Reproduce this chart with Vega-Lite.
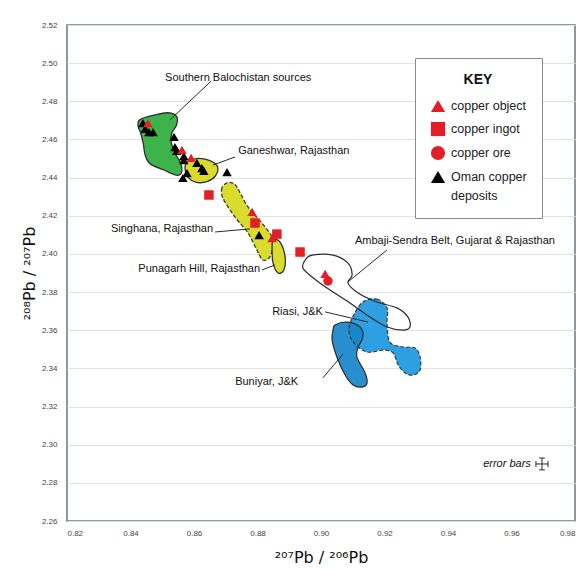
{
  "$schema": "https://vega.github.io/schema/vega-lite/v6.json",
  "width": 508,
  "height": 496,
  "autosize": {"type": "none"},
  "padding": {"left": 67, "top": 25, "right": 8, "bottom": 49},
  "background": "white",
  "config": {
    "view": {"stroke": "#8d9a9e", "strokeWidth": 2},
    "font": "Liberation Sans",
    "style": {"guide-label": {"lineHeight": 19}},
    "axis": {"labelFont": "Liberation Sans", "labelFontSize": 8, "labelColor": "#444", "ticks": false, "domain": false, "titleFont": "DejaVu Sans", "titleFontSize": 16, "titleFontWeight": "normal", "titleColor": "#111"}
  },
  "datasets": {
    "shapes": [
      {"region": "green", "i": 1, "x": 0.8430, "y": 2.4705},
      {"region": "green", "i": 2, "x": 0.8480, "y": 2.4730},
      {"region": "green", "i": 3, "x": 0.8518, "y": 2.4740},
      {"region": "green", "i": 4, "x": 0.8545, "y": 2.4722},
      {"region": "green", "i": 5, "x": 0.8545, "y": 2.4676},
      {"region": "green", "i": 6, "x": 0.8530, "y": 2.4634},
      {"region": "green", "i": 7, "x": 0.8528, "y": 2.4587},
      {"region": "green", "i": 8, "x": 0.8540, "y": 2.4529},
      {"region": "green", "i": 9, "x": 0.8556, "y": 2.4482},
      {"region": "green", "i": 10, "x": 0.8562, "y": 2.4435},
      {"region": "green", "i": 11, "x": 0.8548, "y": 2.4412},
      {"region": "green", "i": 12, "x": 0.8505, "y": 2.4440},
      {"region": "green", "i": 13, "x": 0.8462, "y": 2.4472},
      {"region": "green", "i": 14, "x": 0.8446, "y": 2.4519},
      {"region": "green", "i": 15, "x": 0.8440, "y": 2.4581},
      {"region": "green", "i": 16, "x": 0.8432, "y": 2.4634},
      {"region": "green", "i": 17, "x": 0.8424, "y": 2.4670},
      {"region": "ganeshwar", "i": 1, "x": 0.8578, "y": 2.4482},
      {"region": "ganeshwar", "i": 2, "x": 0.8609, "y": 2.4500},
      {"region": "ganeshwar", "i": 3, "x": 0.8648, "y": 2.4490},
      {"region": "ganeshwar", "i": 4, "x": 0.8674, "y": 2.4458},
      {"region": "ganeshwar", "i": 5, "x": 0.8668, "y": 2.4410},
      {"region": "ganeshwar", "i": 6, "x": 0.8643, "y": 2.4380},
      {"region": "ganeshwar", "i": 7, "x": 0.8607, "y": 2.4375},
      {"region": "ganeshwar", "i": 8, "x": 0.8582, "y": 2.4400},
      {"region": "ganeshwar", "i": 9, "x": 0.8572, "y": 2.4442},
      {"region": "singhana", "i": 1, "x": 0.8704, "y": 2.4372},
      {"region": "singhana", "i": 2, "x": 0.8688, "y": 2.4346},
      {"region": "singhana", "i": 3, "x": 0.8691, "y": 2.4293},
      {"region": "singhana", "i": 4, "x": 0.8729, "y": 2.4194},
      {"region": "singhana", "i": 5, "x": 0.8770, "y": 2.4110},
      {"region": "singhana", "i": 6, "x": 0.8798, "y": 2.4021},
      {"region": "singhana", "i": 7, "x": 0.8817, "y": 2.3968},
      {"region": "singhana", "i": 8, "x": 0.8839, "y": 2.3984},
      {"region": "singhana", "i": 9, "x": 0.8849, "y": 2.4047},
      {"region": "singhana", "i": 10, "x": 0.8846, "y": 2.4089},
      {"region": "singhana", "i": 11, "x": 0.8814, "y": 2.4162},
      {"region": "singhana", "i": 12, "x": 0.8770, "y": 2.4246},
      {"region": "singhana", "i": 13, "x": 0.8735, "y": 2.4351},
      {"region": "singhana", "i": 14, "x": 0.8720, "y": 2.4372},
      {"region": "punagarh", "i": 1, "x": 0.8849, "y": 2.4073},
      {"region": "punagarh", "i": 2, "x": 0.8871, "y": 2.4062},
      {"region": "punagarh", "i": 3, "x": 0.8887, "y": 2.3984},
      {"region": "punagarh", "i": 4, "x": 0.8883, "y": 2.3916},
      {"region": "punagarh", "i": 5, "x": 0.8865, "y": 2.3900},
      {"region": "punagarh", "i": 6, "x": 0.8849, "y": 2.3952},
      {"region": "punagarh", "i": 7, "x": 0.8846, "y": 2.4021},
      {"region": "ambaji", "i": 1, "x": 0.8950, "y": 2.3968},
      {"region": "ambaji", "i": 2, "x": 0.8972, "y": 2.3994},
      {"region": "ambaji", "i": 3, "x": 0.9038, "y": 2.3994},
      {"region": "ambaji", "i": 4, "x": 0.9085, "y": 2.3952},
      {"region": "ambaji", "i": 5, "x": 0.9098, "y": 2.3890},
      {"region": "ambaji", "i": 6, "x": 0.9085, "y": 2.3848},
      {"region": "ambaji", "i": 7, "x": 0.9117, "y": 2.3795},
      {"region": "ambaji", "i": 8, "x": 0.9176, "y": 2.3748},
      {"region": "ambaji", "i": 9, "x": 0.9239, "y": 2.3717},
      {"region": "ambaji", "i": 10, "x": 0.9274, "y": 2.3669},
      {"region": "ambaji", "i": 11, "x": 0.9280, "y": 2.3617},
      {"region": "ambaji", "i": 12, "x": 0.9258, "y": 2.3601},
      {"region": "ambaji", "i": 13, "x": 0.9208, "y": 2.3617},
      {"region": "ambaji", "i": 14, "x": 0.9154, "y": 2.3669},
      {"region": "ambaji", "i": 15, "x": 0.9091, "y": 2.3743},
      {"region": "ambaji", "i": 16, "x": 0.9019, "y": 2.3821},
      {"region": "ambaji", "i": 17, "x": 0.8972, "y": 2.3879},
      {"region": "ambaji", "i": 18, "x": 0.8943, "y": 2.3926},
      {"region": "riasi", "i": 1, "x": 0.9132, "y": 2.3748},
      {"region": "riasi", "i": 2, "x": 0.9176, "y": 2.3763},
      {"region": "riasi", "i": 3, "x": 0.9208, "y": 2.3717},
      {"region": "riasi", "i": 4, "x": 0.9208, "y": 2.3638},
      {"region": "riasi", "i": 5, "x": 0.9217, "y": 2.3538},
      {"region": "riasi", "i": 6, "x": 0.9258, "y": 2.3512},
      {"region": "riasi", "i": 7, "x": 0.9296, "y": 2.3507},
      {"region": "riasi", "i": 8, "x": 0.9312, "y": 2.3460},
      {"region": "riasi", "i": 9, "x": 0.9312, "y": 2.3392},
      {"region": "riasi", "i": 10, "x": 0.9290, "y": 2.3365},
      {"region": "riasi", "i": 11, "x": 0.9265, "y": 2.3376},
      {"region": "riasi", "i": 12, "x": 0.9243, "y": 2.3418},
      {"region": "riasi", "i": 13, "x": 0.9227, "y": 2.3481},
      {"region": "riasi", "i": 14, "x": 0.9195, "y": 2.3496},
      {"region": "riasi", "i": 15, "x": 0.9145, "y": 2.3486},
      {"region": "riasi", "i": 16, "x": 0.9104, "y": 2.3533},
      {"region": "riasi", "i": 17, "x": 0.9088, "y": 2.3601},
      {"region": "riasi", "i": 18, "x": 0.9101, "y": 2.3674},
      {"region": "buniyar", "i": 1, "x": 0.9044, "y": 2.3627},
      {"region": "buniyar", "i": 2, "x": 0.9082, "y": 2.3643},
      {"region": "buniyar", "i": 3, "x": 0.9123, "y": 2.3617},
      {"region": "buniyar", "i": 4, "x": 0.9132, "y": 2.3565},
      {"region": "buniyar", "i": 5, "x": 0.9117, "y": 2.3512},
      {"region": "buniyar", "i": 6, "x": 0.9113, "y": 2.3460},
      {"region": "buniyar", "i": 7, "x": 0.9139, "y": 2.3376},
      {"region": "buniyar", "i": 8, "x": 0.9145, "y": 2.3323},
      {"region": "buniyar", "i": 9, "x": 0.9129, "y": 2.3302},
      {"region": "buniyar", "i": 10, "x": 0.9101, "y": 2.3313},
      {"region": "buniyar", "i": 11, "x": 0.9076, "y": 2.3365},
      {"region": "buniyar", "i": 12, "x": 0.9050, "y": 2.3460},
      {"region": "buniyar", "i": 13, "x": 0.9035, "y": 2.3549},
      {"region": "buniyar", "i": 14, "x": 0.9038, "y": 2.3601}
    ],
    "points": [
      {"type": "Oman copper deposits", "x": 0.8439, "y": 2.4686},
      {"type": "Oman copper deposits", "x": 0.8446, "y": 2.4655},
      {"type": "Oman copper deposits", "x": 0.8458, "y": 2.4639},
      {"type": "Oman copper deposits", "x": 0.8471, "y": 2.4639},
      {"type": "Oman copper deposits", "x": 0.8537, "y": 2.4613},
      {"type": "Oman copper deposits", "x": 0.8540, "y": 2.4560},
      {"type": "Oman copper deposits", "x": 0.8546, "y": 2.4540},
      {"type": "Oman copper deposits", "x": 0.8568, "y": 2.4513},
      {"type": "Oman copper deposits", "x": 0.8568, "y": 2.4492},
      {"type": "Oman copper deposits", "x": 0.8609, "y": 2.4477},
      {"type": "Oman copper deposits", "x": 0.8625, "y": 2.4450},
      {"type": "Oman copper deposits", "x": 0.8631, "y": 2.4435},
      {"type": "Oman copper deposits", "x": 0.8578, "y": 2.4424},
      {"type": "Oman copper deposits", "x": 0.8565, "y": 2.4398},
      {"type": "Oman copper deposits", "x": 0.8704, "y": 2.4429},
      {"type": "Oman copper deposits", "x": 0.8805, "y": 2.4099},
      {"type": "copper object", "x": 0.8455, "y": 2.4686},
      {"type": "copper object", "x": 0.8562, "y": 2.4545},
      {"type": "copper object", "x": 0.8591, "y": 2.4503},
      {"type": "copper object", "x": 0.8783, "y": 2.4220},
      {"type": "copper object", "x": 0.8846, "y": 2.4083},
      {"type": "copper object", "x": 0.9013, "y": 2.3895},
      {"type": "copper ingot", "x": 0.8647, "y": 2.4309},
      {"type": "copper ingot", "x": 0.8792, "y": 2.4162},
      {"type": "copper ingot", "x": 0.8861, "y": 2.4104},
      {"type": "copper ingot", "x": 0.8934, "y": 2.4010},
      {"type": "copper ore", "x": 0.9022, "y": 2.3858}
    ],
    "labels": [
      {"label": "Southern Balochistan sources", "side": "left", "x": 0.8509, "y": 2.4922},
      {"label": "Ganeshwar, Rajasthan", "side": "left", "x": 0.8739, "y": 2.4540},
      {"label": "Singhana, Rajasthan", "side": "right", "x": 0.8660, "y": 2.4131},
      {"label": "Punagarh Hill, Rajasthan", "side": "right", "x": 0.8808, "y": 2.3921},
      {"label": "Ambaji-Sendra Belt, Gujarat & Rajasthan", "side": "left", "x": 0.9107, "y": 2.4068},
      {"label": "Riasi, J&K", "side": "right", "x": 0.9006, "y": 2.3696},
      {"label": "Buniyar, J&K", "side": "right", "x": 0.8928, "y": 2.3329},
      {"label": "error bars", "side": "italic", "x": 0.9661, "y": 2.2899}
    ],
    "leaders": [
      {"x": 0.8654, "y": 2.4906, "x2": 0.8524, "y2": 2.4702},
      {"x": 0.8729, "y": 2.4508, "x2": 0.8660, "y2": 2.4466},
      {"x": 0.8666, "y": 2.4115, "x2": 0.8776, "y2": 2.4131},
      {"x": 0.8814, "y": 2.3916, "x2": 0.8855, "y2": 2.3942},
      {"x": 0.9208, "y": 2.4021, "x2": 0.9085, "y2": 2.3853},
      {"x": 0.9013, "y": 2.3696, "x2": 0.9148, "y2": 2.3643},
      {"x": 0.9006, "y": 2.3350, "x2": 0.9069, "y2": 2.3475},
      {"x": 0.9677, "y": 2.2899, "x2": 0.9715, "y2": 2.2899},
      {"x": 0.9696, "y": 2.2868, "x2": 0.9696, "y2": 2.2930},
      {"x": 0.9677, "y": 2.2883, "x2": 0.9677, "y2": 2.2915},
      {"x": 0.9715, "y": 2.2883, "x2": 0.9715, "y2": 2.2915},
      {"x": 0.9687, "y": 2.2930, "x2": 0.9705, "y2": 2.2930},
      {"x": 0.9687, "y": 2.2868, "x2": 0.9705, "y2": 2.2868}
    ]
  },
  "encoding": {
    "x": {"field": "x", "type": "quantitative", "scale": {"domain": [0.82, 0.98], "zero": false, "nice": false},
      "axis": {"title": "²⁰⁷Pb / ²⁰⁶Pb", "grid": false, "values": [0.82, 0.84, 0.86, 0.88, 0.9, 0.92, 0.94, 0.96, 0.98], "format": ".2f", "labelPadding": 8, "titleY": 41, "titleBaseline": "alphabetic"}},
    "y": {"field": "y", "type": "quantitative", "scale": {"domain": [2.26, 2.52], "zero": false, "nice": false},
      "axis": {"title": "²⁰⁸Pb / ²⁰⁷Pb", "grid": true, "gridColor": "#e2e2e2", "gridWidth": 1, "values": [2.26, 2.28, 2.3, 2.32, 2.34, 2.36, 2.38, 2.4, 2.42, 2.44, 2.46, 2.48, 2.5, 2.52], "format": ".2f", "labelPadding": 10, "titleX": -30, "titleY": 248, "titleBaseline": "bottom", "titleAlign": "center"}}
  },
  "layer": [
    {"data": {"name": "shapes"}, "transform": [{"filter": "datum.region == 'green'"}],
     "mark": {"type": "line", "interpolate": "cardinal-closed", "fill": "#3cb44b", "stroke": "#2f2f2f", "strokeWidth": 1.3},
     "encoding": {"order": {"field": "i", "type": "quantitative"}}},
    {"data": {"name": "shapes"}, "transform": [{"filter": "datum.region == 'ganeshwar'"}],
     "mark": {"type": "line", "interpolate": "cardinal-closed", "fill": "#d9dc2c", "stroke": "#2f2f2f", "strokeWidth": 1.3},
     "encoding": {"order": {"field": "i", "type": "quantitative"}}},
    {"data": {"name": "shapes"}, "transform": [{"filter": "datum.region == 'singhana'"}],
     "mark": {"type": "line", "interpolate": "cardinal-closed", "fill": "#d9dc2c", "stroke": "#3a3a3a", "strokeWidth": 1.3, "strokeDash": [4, 2]},
     "encoding": {"order": {"field": "i", "type": "quantitative"}}},
    {"data": {"name": "shapes"}, "transform": [{"filter": "datum.region == 'punagarh'"}],
     "mark": {"type": "line", "interpolate": "cardinal-closed", "fill": "#d9dc2c", "stroke": "#2f2f2f", "strokeWidth": 1.3},
     "encoding": {"order": {"field": "i", "type": "quantitative"}}},
    {"data": {"name": "shapes"}, "transform": [{"filter": "datum.region == 'ambaji'"}],
     "mark": {"type": "line", "interpolate": "cardinal-closed", "fill": "white", "strokeWidth": 0},
     "encoding": {"order": {"field": "i", "type": "quantitative"}}},
    {"data": {"name": "shapes"}, "transform": [{"filter": "datum.region == 'riasi'"}],
     "mark": {"type": "line", "interpolate": "cardinal-closed", "fill": "#2e9fe2", "strokeWidth": 0},
     "encoding": {"order": {"field": "i", "type": "quantitative"}}},
    {"data": {"name": "shapes"}, "transform": [{"filter": "datum.region == 'buniyar'"}],
     "mark": {"type": "line", "interpolate": "cardinal-closed", "fill": "#1684c9", "fillOpacity": 0.92, "stroke": "#2a2a2a", "strokeWidth": 1.2},
     "encoding": {"order": {"field": "i", "type": "quantitative"}}},
    {"data": {"name": "shapes"}, "transform": [{"filter": "datum.region == 'riasi'"}],
     "mark": {"type": "line", "interpolate": "cardinal-closed", "stroke": "#3a3a3a", "strokeWidth": 1.2, "strokeDash": [4, 2]},
     "encoding": {"order": {"field": "i", "type": "quantitative"}}},
    {"data": {"name": "shapes"}, "transform": [{"filter": "datum.region == 'ambaji'"}],
     "mark": {"type": "line", "interpolate": "cardinal-closed", "stroke": "#2a2a2a", "strokeWidth": 1.2},
     "encoding": {"order": {"field": "i", "type": "quantitative"}}},
    {"data": {"name": "leaders"},
     "mark": {"type": "rule", "color": "#2a2a2a", "strokeWidth": 1},
     "encoding": {"x2": {"field": "x2"}, "y2": {"field": "y2"}}},
    {"data": {"name": "points"},
     "mark": {"type": "point", "filled": true, "opacity": 1, "size": 90},
     "encoding": {
       "color": {"field": "type", "type": "nominal",
         "scale": {"domain": ["copper object", "copper ingot", "copper ore", "Oman copper deposits"], "range": ["#e31e26", "#e31e26", "#e31e26", "#000000"]},
         "legend": {"title": "KEY", "orient": "none", "legendX": 348, "legendY": 33, "strokeColor": "#8a8a8a", "fillColor": "white", "padding": 15, "titleAnchor": "middle", "titleFontSize": 14, "titleFontWeight": "bold", "titleFont": "Liberation Sans", "titleColor": "#111", "titlePadding": 11, "labelFont": "Liberation Sans", "labelFontSize": 12.5, "labelColor": "#222", "symbolSize": 200, "rowPadding": 8, "labelOffset": 5, "labelLimit": 200, "labelExpr": "datum.label == 'Oman copper deposits' ? ['Oman copper', 'deposits'] : datum.label"}},
       "shape": {"field": "type", "type": "nominal",
         "scale": {"domain": ["copper object", "copper ingot", "copper ore", "Oman copper deposits"], "range": ["triangle-up", "square", "circle", "triangle-up"]}}
     }},
    {"data": {"name": "labels"}, "transform": [{"filter": "datum.side == 'left'"}],
     "mark": {"type": "text", "align": "left", "baseline": "middle", "font": "Liberation Sans", "fontSize": 11, "color": "#111"},
     "encoding": {"text": {"field": "label"}}},
    {"data": {"name": "labels"}, "transform": [{"filter": "datum.side == 'right'"}],
     "mark": {"type": "text", "align": "right", "baseline": "middle", "font": "Liberation Sans", "fontSize": 11, "color": "#111"},
     "encoding": {"text": {"field": "label"}}},
    {"data": {"name": "labels"}, "transform": [{"filter": "datum.side == 'italic'"}],
     "mark": {"type": "text", "align": "right", "baseline": "middle", "font": "Liberation Sans", "fontSize": 11, "fontStyle": "italic", "color": "#111"},
     "encoding": {"text": {"field": "label"}}}
  ]
}
